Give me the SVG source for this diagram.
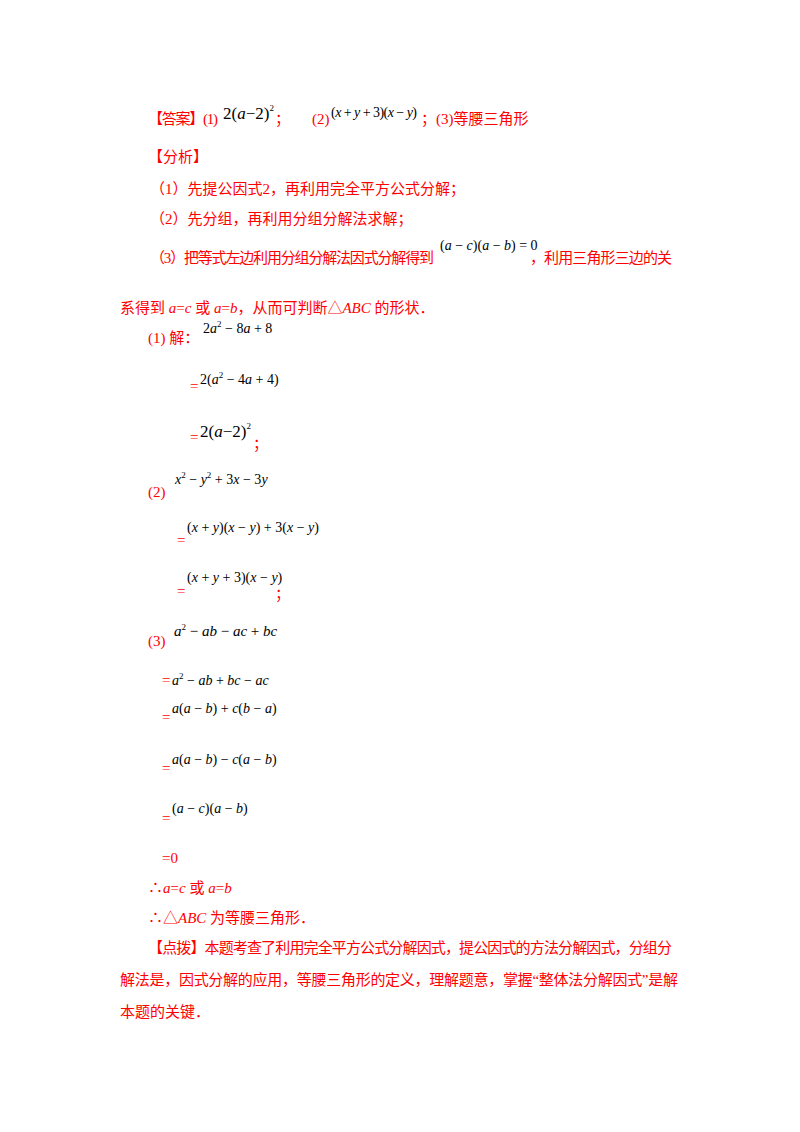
<svg xmlns="http://www.w3.org/2000/svg" width="800" height="1132" viewBox="0 0 800 1132">
<style>
.r{fill:#ff0000;font-family:"Liberation Serif","Noto Sans CJK SC",serif;font-size:15px}
.m{fill:#000;font-family:"Liberation Serif",serif;font-size:14px}
.i{font-style:italic}
.s{font-size:9px}
</style>
<rect width="800" height="1132" fill="#fff"/>
<g id="answer">
<text class="r" x="148" y="124" textLength="70">【答案】(1)</text>
<text class="m" x="223" y="119" style="font-size:17px">2(<tspan class="i">a</tspan>−2)<tspan class="s" dy="-8">2</tspan></text>
<text class="r" x="275" y="124">；</text>
<text class="m" x="331" y="117" textLength="86">(<tspan class="i">x</tspan> + <tspan class="i">y</tspan> + 3)(<tspan class="i">x</tspan> − <tspan class="i">y</tspan>)</text>
<text class="r" x="312" y="124">(2)</text>
<text class="r" x="421" y="124">；(3)等腰三角形</text>
</g>
<g id="analysis">
<text class="r" x="148" y="162">【分析】</text>
<text class="r" x="150" y="194">（1）先提公因式2，再利用完全平方公式分解；</text>
<text class="r" x="150" y="224">（2）先分组，再利用分组分解法求解；</text>
<text class="r" x="150" y="263" textLength="284">（3）把等式左边利用分组分解法因式分解得到</text>
<text class="m" x="440" y="250">(<tspan class="i">a</tspan> − <tspan class="i">c</tspan>)(<tspan class="i">a</tspan> − <tspan class="i">b</tspan>) = 0</text>
<text class="r" x="530" y="263" textLength="142">，利用三角形三边的关</text>
<text class="r" x="120" y="313">系得到 <tspan class="i">a</tspan>=<tspan class="i">c</tspan> 或 <tspan class="i">a</tspan>=<tspan class="i">b</tspan>，从而可判断△<tspan class="i">ABC</tspan> 的形状．</text>
</g>
<g id="part1">
<text class="r" x="148" y="343">(1) 解：</text>
<text class="m" x="203" y="333">2<tspan class="i">a</tspan><tspan class="s" dy="-6">2</tspan><tspan dy="6"> − 8</tspan><tspan class="i">a</tspan> + 8</text>
<text class="r" x="190" y="391">=</text>
<text class="m" x="200" y="384">2(<tspan class="i">a</tspan><tspan class="s" dy="-6">2</tspan><tspan dy="6"> − 4</tspan><tspan class="i">a</tspan> + 4)</text>
<text class="r" x="190" y="442">=</text>
<text class="m" x="200" y="437" style="font-size:17px">2(<tspan class="i">a</tspan>−2)<tspan class="s" dy="-8">2</tspan></text>
<text class="r" x="253" y="449">；</text>
</g>
<g id="part2">
<text class="r" x="148" y="497">(2)</text>
<text class="m" x="175" y="484"><tspan class="i">x</tspan><tspan class="s" dy="-6">2</tspan><tspan dy="6"> − </tspan><tspan class="i">y</tspan><tspan class="s" dy="-6">2</tspan><tspan dy="6"> + 3</tspan><tspan class="i">x</tspan> − 3<tspan class="i">y</tspan></text>
<text class="r" x="177" y="545">=</text>
<text class="m" x="187" y="532">(<tspan class="i">x</tspan> + <tspan class="i">y</tspan>)(<tspan class="i">x</tspan> − <tspan class="i">y</tspan>) + 3(<tspan class="i">x</tspan> − <tspan class="i">y</tspan>)</text>
<text class="r" x="177" y="596">=</text>
<text class="m" x="187" y="582">(<tspan class="i">x</tspan> + <tspan class="i">y</tspan> + 3)(<tspan class="i">x</tspan> − <tspan class="i">y</tspan>)</text>
<text class="r" x="275" y="599">；</text>
</g>
<g id="part3">
<text class="r" x="148" y="646">(3)</text>
<text class="m" x="174" y="636" style="font-size:15px"><tspan class="i">a</tspan><tspan class="s" dy="-6">2</tspan><tspan dy="6"> − </tspan><tspan class="i">ab</tspan> − <tspan class="i">ac</tspan> + <tspan class="i">bc</tspan></text>
<text class="r" x="162" y="685">=</text>
<text class="m" x="172" y="685"><tspan class="i">a</tspan><tspan class="s" dy="-6">2</tspan><tspan dy="6"> − </tspan><tspan class="i">ab</tspan> + <tspan class="i">bc</tspan> − <tspan class="i">ac</tspan></text>
<text class="r" x="162" y="722">=</text>
<text class="m" x="172" y="713"><tspan class="i">a</tspan>(<tspan class="i">a</tspan> − <tspan class="i">b</tspan>) + <tspan class="i">c</tspan>(<tspan class="i">b</tspan> − <tspan class="i">a</tspan>)</text>
<text class="r" x="162" y="773">=</text>
<text class="m" x="172" y="764"><tspan class="i">a</tspan>(<tspan class="i">a</tspan> − <tspan class="i">b</tspan>) − <tspan class="i">c</tspan>(<tspan class="i">a</tspan> − <tspan class="i">b</tspan>)</text>
<text class="r" x="162" y="823">=</text>
<text class="m" x="172" y="813">(<tspan class="i">a</tspan> − <tspan class="i">c</tspan>)(<tspan class="i">a</tspan> − <tspan class="i">b</tspan>)</text>
<text class="r" x="162" y="863">=0</text>
<text class="r" x="148" y="893">∴<tspan class="i">a</tspan>=<tspan class="i">c</tspan> 或 <tspan class="i">a</tspan>=<tspan class="i">b</tspan></text>
<text class="r" x="148" y="923">∴△<tspan class="i">ABC</tspan> 为等腰三角形．</text>
</g>
<g id="tip">
<text class="r" x="148" y="953" textLength="524">【点拨】本题考查了利用完全平方公式分解因式，提公因式的方法分解因式，分组分</text>
<text class="r" x="120" y="985" textLength="558">解法是，因式分解的应用，等腰三角形的定义，理解题意，掌握“整体法分解因式”是解</text>
<text class="r" x="120" y="1017">本题的关键．</text>
</g>
<g id="connectors"/>
</svg>
